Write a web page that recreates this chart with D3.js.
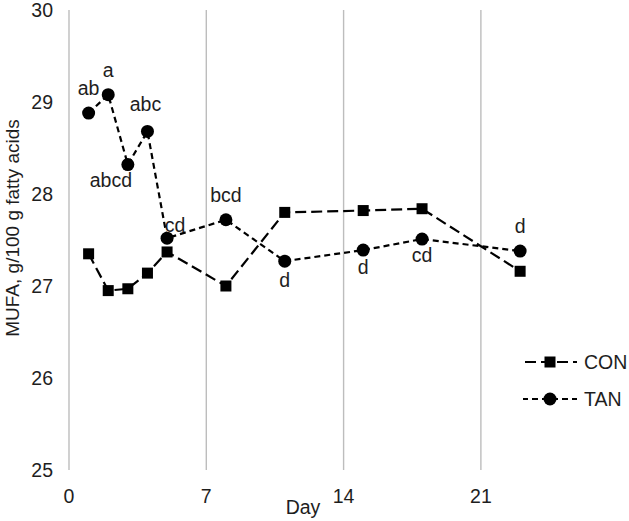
<!DOCTYPE html>
<html>
<head>
<meta charset="utf-8">
<script src="https://cdn.jsdelivr.net/npm/d3@7"></script>
<style>
  body { margin: 0; background: #fff; }
  text { font-family: "Liberation Sans", Arial, sans-serif; fill: #1e1e1e; }
</style>
</head>
<body>
<div id="chart"></div>
<script>
// values
var conDays = [1, 2, 3, 4, 5, 8, 11, 15, 18, 23];
var conVals = [27.35, 26.95, 26.97, 27.14, 27.37, 27.00, 27.80, 27.82, 27.84, 27.16];
var tanDays = [1, 2, 3, 4, 5, 8, 11, 15, 18, 23];
var tanVals = [28.88, 29.08, 28.32, 28.68, 27.52, 27.72, 27.27, 27.39, 27.51, 27.38];
var tanLetters = ["ab", "a", "abcd", "abc", "cd", "bcd", "d", "d", "cd", "d"];
var xTicks = [0, 7, 14, 21];
var yTicks = [25, 26, 27, 28, 29, 30];

var svgWidth = 629;
var svgHeight = 521;

var svg = d3.select("#chart")
  .append("svg")
  .attr("width", svgWidth)
  .attr("height", svgHeight);

var x = d3.scaleLinear().domain([0, 28.5]).range([69, 628]);
var y = d3.scaleLinear().domain([25, 30]).range([470, 10]);

// vertical gridlines
svg.selectAll(".grid")
  .data(xTicks)
  .enter()
  .append("line")
  .attr("x1", d => x(d)).attr("x2", d => x(d))
  .attr("y1", y(30)).attr("y2", y(25))
  .attr("stroke", "#bdbdbd")
  .attr("stroke-width", 1.4);

// tick labels
svg.selectAll(".xt")
  .data(xTicks)
  .enter()
  .append("text")
  .attr("x", d => x(d))
  .attr("y", 503)
  .attr("text-anchor", "middle")
  .attr("font-size", 19.5)
  .text(d => d);

svg.selectAll(".yt")
  .data(yTicks)
  .enter()
  .append("text")
  .attr("x", 53)
  .attr("y", d => y(d) + 7)
  .attr("text-anchor", "end")
  .attr("font-size", 19.5)
  .text(d => d);

// axis titles
svg.append("text")
  .attr("transform", "translate(19,228) rotate(-90)")
  .attr("text-anchor", "middle")
  .attr("font-size", 19)
  .text("MUFA, g/100 g fatty acids");

svg.append("text")
  .attr("x", 303)
  .attr("y", 514)
  .attr("text-anchor", "middle")
  .attr("font-size", 19.5)
  .text("Day");

var con = conDays.map((d, i) => ({day: d, v: conVals[i]}));
var tan = tanDays.map((d, i) => ({day: d, v: tanVals[i], lab: tanLetters[i]}));

var line = d3.line().x(d => x(d.day)).y(d => y(d.v));

svg.append("path")
  .datum(con)
  .attr("d", line)
  .attr("fill", "none")
  .attr("stroke", "#000")
  .attr("stroke-width", 2.2)
  .attr("stroke-dasharray", "11,5");

svg.append("path")
  .datum(tan)
  .attr("d", line)
  .attr("fill", "none")
  .attr("stroke", "#000")
  .attr("stroke-width", 2.2)
  .attr("stroke-dasharray", "6,4");

svg.selectAll(".sq")
  .data(con)
  .enter()
  .append("rect")
  .attr("x", d => x(d.day) - 5.5)
  .attr("y", d => y(d.v) - 5.5)
  .attr("width", 11)
  .attr("height", 11)
  .attr("fill", "#000");

svg.selectAll(".dot")
  .data(tan)
  .enter()
  .append("circle")
  .attr("cx", d => x(d.day))
  .attr("cy", d => y(d.v))
  .attr("r", 6.5)
  .attr("fill", "#000");

// letter offsets (dx, dy) from each TAN point
var labOff = [[0, -18], [0, -18], [-17, 22], [-2, -20], [8, -6], [0, -18], [0, 26], [0, 24], [0, 23], [0, -18]];
svg.selectAll(".lab")
  .data(tan)
  .enter()
  .append("text")
  .attr("x", (d, i) => x(d.day) + labOff[i][0])
  .attr("y", (d, i) => y(d.v) + labOff[i][1])
  .attr("text-anchor", "middle")
  .attr("font-size", 19.5)
  .text(d => d.lab);

// legend
var legend = [{name: "CON", dash: "11,5", shape: "sq", yy: 362}, {name: "TAN", dash: "6,4", shape: "dot", yy: 399}];
legend.forEach(function(l) {
  svg.append("line")
    .attr("x1", 523).attr("x2", 577)
    .attr("y1", l.yy).attr("y2", l.yy)
    .attr("stroke", "#000")
    .attr("stroke-width", 2.2)
    .attr("stroke-dasharray", l.dash)
    .attr("stroke-dashoffset", l.shape == "sq" ? -2 : 1);
  if (l.shape == "sq") {
    svg.append("rect").attr("x", 544.5).attr("y", l.yy - 5.5).attr("width", 11).attr("height", 11).attr("fill", "#000");
  } else {
    svg.append("circle").attr("cx", 550).attr("cy", l.yy).attr("r", 6.5).attr("fill", "#000");
  }
  svg.append("text")
    .attr("x", 584)
    .attr("y", l.yy + 7)
    .attr("font-size", 19.5)
    .text(l.name);
});
</script>
</body>
</html>
